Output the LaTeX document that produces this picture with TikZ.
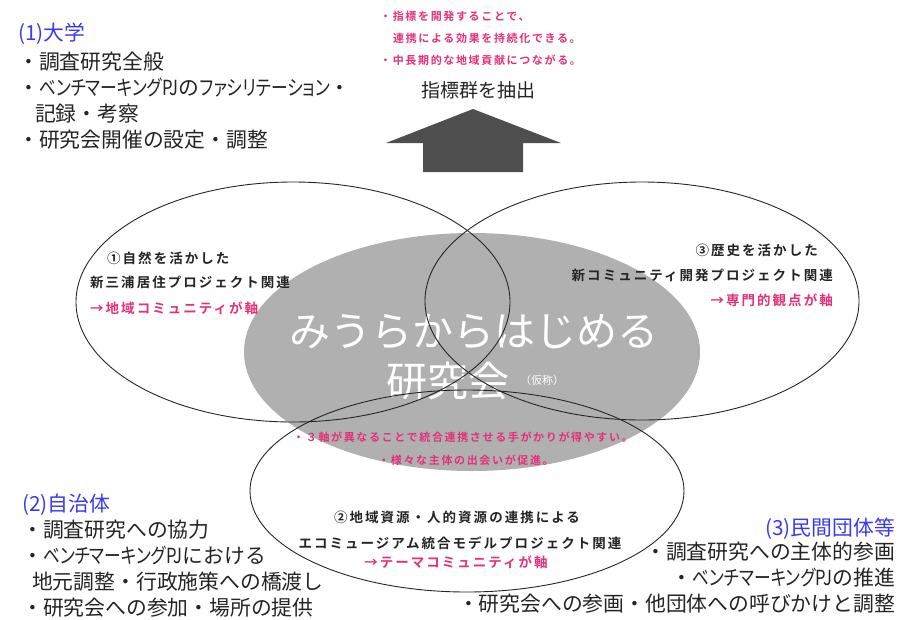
\documentclass[tikz,border=0pt]{standalone}
\usepackage{fontspec}
\setmainfont{Noto Sans CJK JP}[BoldFont={Noto Sans CJK JP Bold}]
\newfontfamily\widejp{Noto Sans CJK JP}[BoldFont={Noto Sans CJK JP Bold}]
\newfontfamily\spacedjp{Noto Sans CJK JP}[LetterSpace=15, BoldFont={Noto Sans CJK JP Bold}]
\newfontfamily\narrowjp{Noto Sans CJK JP}[RawFeature=+palt, FakeStretch=0.8]
\newcommand\katarun[1]{{\narrowjp #1}}
\usetikzlibrary{shapes.geometric,positioning}
\definecolor{headblue}{RGB}{58,58,240}
\definecolor{notepink}{RGB}{228,48,122}
\definecolor{coregray}{RGB}{176,176,176}
\definecolor{arrowgray}{RGB}{78,78,78}
\definecolor{inktext}{RGB}{36,36,36}

\begin{document}
\begin{tikzpicture}[
    x=1pt, y=-1pt,
    ring/.style={draw=black!85, line width=0.9pt, ellipse, inner sep=0pt},
    core/.style={fill=coregray, ellipse, inner sep=0pt},
    heading/.style={text=headblue, font=\fontsize{20.8}{26}\selectfont, inner sep=0pt},
    listing/.style={text=inktext, font=\fontsize{20.8}{26}\selectfont, inner sep=0pt},
    project/.style={text=inktext, font=\spacedjp\bfseries\fontsize{13.5}{20}\selectfont, inner sep=0pt},
    note/.style={text=notepink, font=\spacedjp\bfseries\fontsize{11}{20}\selectfont, inner sep=0pt}
]
    \useasboundingbox (0,0) rectangle (901,619);

    % central research group
    \node[core, minimum width=456, minimum height=238] (core) at (472,352) {};
    \node[text=white, font=\widejp\fontsize{41}{46}\selectfont, inner sep=0pt, anchor=base] (title) at (474,346) {みうらからはじめる};
    \node[text=white, font=\widejp\fontsize{41}{46}\selectfont, inner sep=0pt, anchor=base] (group) at (448,396) {研究会};
    \node[text=white, font=\widejp\fontsize{11}{13}\selectfont, inner sep=0pt, anchor=base west] (tentative) at (520,384) {（仮称）};

    % three project circles
    \node[ring, minimum width=434, minimum height=240] (nature) at (293,302) {};
    \node[ring, minimum width=434, minimum height=238] (history) at (642,301) {};
    \node[ring, minimum width=434, minimum height=202] (museum) at (467,491) {};

    % arrow to indicators
    \fill[arrowgray] (423,172) -- (423,143) -- (386,143) -- (473,109)
        -- (561,143) -- (523,143) -- (523,172) -- cycle;
    \node[text=inktext, font=\widejp\fontsize{19}{22}\selectfont, inner sep=0pt, anchor=base] (extract) at (478,97) {指標群を抽出};
    \node[note, anchor=base west] (merit1) at (380,20) {・指標を開発することで、};
    \node[note, anchor=base west] (merit2) at (393,42) {連携による効果を持続化できる。};
    \node[note, anchor=base west] (merit3) at (380,64) {・中長期的な地域貢献につながる。};

    % project texts
    \node[project, anchor=base west] (nature1) at (107,263) {①自然を活かした};
    \node[project, anchor=base west] (nature2) at (90,287) {新三浦居住プロジェクト関連};
    \node[project, text=notepink, anchor=base west] (nature3) at (90,313) {→地域コミュニティが軸};
    \node[project, anchor=base east] (history1) at (818,255) {③歴史を活かした};
    \node[project, anchor=base east] (history2) at (833,280) {新コミュニティ開発プロジェクト関連};
    \node[project, text=notepink, anchor=base east] (history3) at (833,305) {→専門的観点が軸};
    \node[project, anchor=base] (museum1) at (457,522) {②地域資源・人的資源の連携による};
    \node[project, anchor=base] (museum2) at (460,548) {エコミュージアム統合モデルプロジェクト関連};
    \node[project, text=notepink, anchor=base] (museum3) at (456,567) {→テーマコミュニティが軸};
    \node[note, anchor=base] (effect1) at (463,441) {・３軸が異なることで統合連携させる手がかりが得やすい。};
    \node[note, anchor=base] (effect2) at (466,464) {・様々な主体の出会いが促進。};

    % roles of each party
    \node[heading, anchor=base west] (univ) at (18,40) {(1)大学};
    \node[listing, align=left, anchor=north west] (univlist) at (18,52)
        {・調査研究全般\\・\katarun{ベンチマーキングPJ}の\katarun{ファシリテーション}・\\\hspace*{17pt}記録・考察\\・研究会開催の設定・調整};
    \node[heading, anchor=base west] (city) at (22,511) {(2)自治体};
    \node[listing, align=left, anchor=north west] (citylist) at (22,520)
        {・調査研究への協力\\・\katarun{ベンチマーキングPJ}における\\\hspace*{10pt}地元調整・行政施策への橋渡し\\・研究会への参加・場所の提供};
    \node[heading, anchor=base east] (private) at (895,535) {(3)民間団体等};
    \node[listing, align=right, anchor=north east] (privatelist) at (895,542)
        {・調査研究への主体的参画\\・\katarun{ベンチマーキングPJ}の推進\\・研究会への参画・他団体への呼びかけと調整};
\end{tikzpicture}
\end{document}
